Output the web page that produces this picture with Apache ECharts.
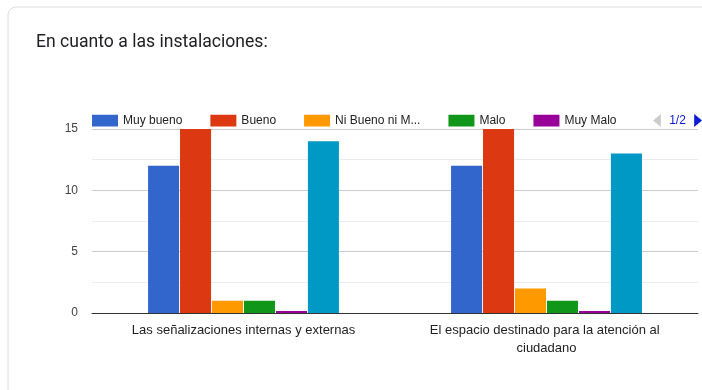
<!DOCTYPE html>
<html>
<head>
<meta charset="utf-8">
<script src="https://cdn.jsdelivr.net/npm/echarts@6/dist/echarts.min.js"></script>
<style>
  html, body { margin: 0; padding: 0; background: #fff; }
  #chart { width: 702px; height: 390px; }
</style>
</head>
<body>
<div id="chart"></div>
<script>
var categories = ['Las señalizaciones internas y externas', 'El espacio destinado para la atención al ciudadano'];
var seriesNames = ['Muy bueno', 'Bueno', 'Ni Bueno ni Malo', 'Malo', 'Muy Malo', 'Excelente'];
var muyBueno = [12, 12];
var bueno = [15, 15];
var niBuenoNiMalo = [1, 2];
var malo = [1, 1];
var muyMalo = [0, 0];
var excelente = [14, 13];
var colors = ['#3366cc', '#dc3912', '#ff9900', '#109618', '#990099', '#0099c6'];

var values = [muyBueno, bueno, niBuenoNiMalo, malo, muyMalo, excelente];
var series = [];
for (var i = 0; i < seriesNames.length; i++) {
  series.push({
    name: seriesNames[i],
    type: 'bar',
    data: values[i],
    barGap: '3%',
    barCategoryGap: '37%',
    barMinHeight: 2,
    itemStyle: { color: colors[i] }
  });
}

var myChart = echarts.init(document.getElementById('chart'));
myChart.setOption({
  animation: false,
  textStyle: { fontFamily: 'Arial, "Liberation Sans", sans-serif' },
  graphic: [{
    type: 'rect',
    shape: { x: 8, y: 7, width: 720, height: 400, r: 8 },
    style: { fill: 'none', stroke: '#dadce0', lineWidth: 1 },
    silent: true
  }],
  title: {
    text: 'En cuanto a las instalaciones:',
    left: 31,
    top: 29,
    textStyle: { fontFamily: 'Roboto', fontSize: 17.6, fontWeight: 'normal', color: '#202124' }
  },
  legend: {
    type: 'scroll',
    left: 92,
    right: 6,
    top: 114,
    padding: 0,
    itemWidth: 26,
    itemHeight: 12,
    itemGap: 28,
    icon: 'rect',
    data: seriesNames,
    formatter: function (name) {
      return name.length > 14 ? name.slice(0, 13) + '...' : name;
    },
    textStyle: { fontSize: 12, color: '#222' },
    pageIconSize: 13,
    pageIconColor: '#0b1ad6',
    pageIconInactiveColor: '#cccccc',
    pageTextStyle: { color: '#0b1ad6', fontSize: 12 },
    pageButtonItemGap: 3,
    pageButtonGap: 10,
    pageFormatter: '{current}/{total}'
  },
  grid: { left: 92, right: 4, top: 129, bottom: 77, containLabel: false },
  xAxis: {
    type: 'category',
    data: categories,
    axisTick: { show: false },
    axisLine: { lineStyle: { color: '#333', width: 1 } },
    axisLabel: {
      color: '#222',
      fontSize: 13,
      margin: 8,
      width: 250,
      overflow: 'break',
      lineHeight: 18,
      interval: 0
    }
  },
  yAxis: {
    type: 'value',
    min: 0,
    max: 15,
    interval: 2.5,
    axisLine: { show: false },
    axisTick: { show: false },
    axisLabel: {
      color: '#444',
      fontSize: 12,
      margin: 14,
      formatter: function (v) { return v % 5 === 0 ? String(v) : ''; }
    },
    splitLine: { lineStyle: { color: ['#cccccc', '#ebebeb'], width: 1 } }
  },
  series: series
});
</script>
</body>
</html>
